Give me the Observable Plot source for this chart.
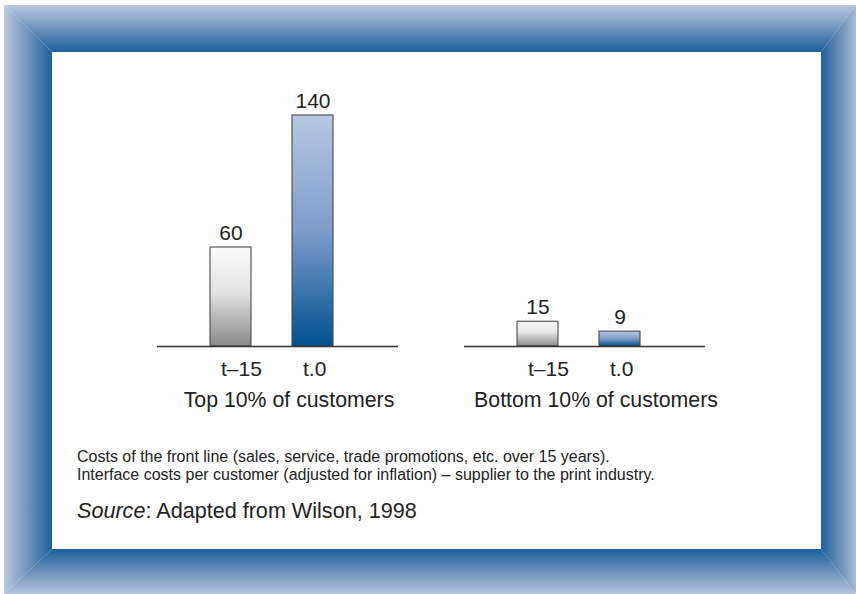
<!DOCTYPE html>
<html>
<head>
<meta charset="utf-8">
<script src="https://cdn.jsdelivr.net/npm/d3@7"></script>
<script src="https://cdn.jsdelivr.net/npm/@observablehq/plot@0.6"></script>
<style>
  html, body { margin: 0; padding: 0; background: #fff; }
  body { width: 856px; height: 594px; position: relative; overflow: hidden; font-family: "Liberation Sans", Arial, Helvetica, sans-serif; }
  .fr { position: absolute; left: 4px; top: 5px; width: 852px; height: 589px; }
  #frTop { clip-path: polygon(0px 0px, 852px 0px, 817px 47px, 48px 47px); background: linear-gradient(to bottom, #bcc8df 0px, #1e5f9c 47px, #1e5f9c 100%); }
  #frLeft { clip-path: polygon(0px 0px, 48px 47px, 48px 544px, 0px 589px); background: linear-gradient(to right, #bcc8df 0px, #1e5f9c 48px, #1e5f9c 100%); }
  #frRight { clip-path: polygon(852px 0px, 852px 589px, 817px 544px, 817px 47px); background: linear-gradient(to right, #1e5f9c 0px, #1e5f9c 817px, #a9bad6 852px); }
  #frBottom { clip-path: polygon(0px 589px, 48px 544px, 817px 544px, 852px 589px); background: linear-gradient(to bottom, #1e5f9c 0px, #1e5f9c 544px, #b6c4dd 589px); }
  #panel { position: absolute; left: 52px; top: 52px; width: 769px; height: 497px; background: #fff; }
  #chart { position: absolute; left: 0; top: 0; }
  #note { position: absolute; left: 25px; top: 396px; font-size: 16px; line-height: 18px; color: #222; white-space: nowrap; }
  #src { position: absolute; left: 25px; top: 447px; font-size: 21.6px; line-height: 24px; color: #222; white-space: nowrap; }
  #defs { position: absolute; width: 0; height: 0; overflow: hidden; }
</style>
</head>
<body>
<svg id="defs" width="0" height="0" aria-hidden="true">
  <defs>
    <linearGradient id="gradGrey" x1="0" y1="0" x2="0" y2="1">
      <stop offset="0" stop-color="#fbfbfb"/>
      <stop offset="0.45" stop-color="#e3e4e5"/>
      <stop offset="1" stop-color="#898a8d"/>
    </linearGradient>
    <linearGradient id="gradBlue" x1="0" y1="0" x2="0" y2="1">
      <stop offset="0" stop-color="#b8c7e2"/>
      <stop offset="0.5" stop-color="#7d9cca"/>
      <stop offset="1" stop-color="#00508f"/>
    </linearGradient>
  </defs>
</svg>
<div class="fr" id="frTop"></div>
<div class="fr" id="frLeft"></div>
<div class="fr" id="frRight"></div>
<div class="fr" id="frBottom"></div>
<div id="panel">
  <div id="chart"></div>
  <div id="note">Costs of the front line (sales, service, trade promotions, etc. over 15 years).<br>Interface costs per customer (adjusted for inflation) – supplier to the print industry.</div>
  <div id="src"><i>Source</i>: Adapted from Wilson, 1998</div>
</div>
<script>
// ---- data ----
const groups = ["Top 10% of customers", "Bottom 10% of customers"];
const periods = ["t–15", "t.0"];
const topValues = [60, 140];
const bottomValues = [15, 9];

const rows = [];
periods.forEach((p, i) => rows.push({group: groups[0], period: p, value: topValues[i]}));
periods.forEach((p, i) => rows.push({group: groups[1], period: p, value: bottomValues[i]}));

const chart = Plot.plot({
  width: 769,
  height: 370,
  marginLeft: 105,
  marginRight: 116,
  marginTop: 63,
  marginBottom: 76,
  style: {fontFamily: "Liberation Sans, Arial, Helvetica, sans-serif", color: "#222", background: "transparent", overflow: "visible"},
  fx: {domain: groups, paddingInner: 0.215, paddingOuter: 0, axis: null},
  x: {domain: periods, paddingInner: 0.497, paddingOuter: 0.709, align: 0.449, axis: null},
  y: {domain: [0, 140], axis: null},
  marks: [
    Plot.barY(rows.filter(d => d.period === periods[0]), {fx: "group", x: "period", y: "value", fill: "url(#gradGrey)", stroke: "#4a4a4a", strokeWidth: 1.1}),
    Plot.barY(rows.filter(d => d.period === periods[1]), {fx: "group", x: "period", y: "value", fill: "url(#gradBlue)", stroke: "#4a4a4a", strokeWidth: 1.1}),
    Plot.ruleY([0], {stroke: "#333", strokeWidth: 1.5}),
    Plot.text(rows, {fx: "group", x: "period", y: "value", text: d => String(d.value), dy: -14, fontSize: 21, fill: "#222"}),
    Plot.axisX({tickSize: 0, tickPadding: 15, fontSize: 21, label: null, textAnchor: "start", dx: -10, fill: "#222"}),
    Plot.text(groups, {fx: d => d, text: d => d, frameAnchor: "bottom", dy: 60, dx: 11, fontSize: 21.3, fill: "#222"})
  ]
});
document.getElementById("chart").appendChild(chart);
</script>
</body>
</html>
